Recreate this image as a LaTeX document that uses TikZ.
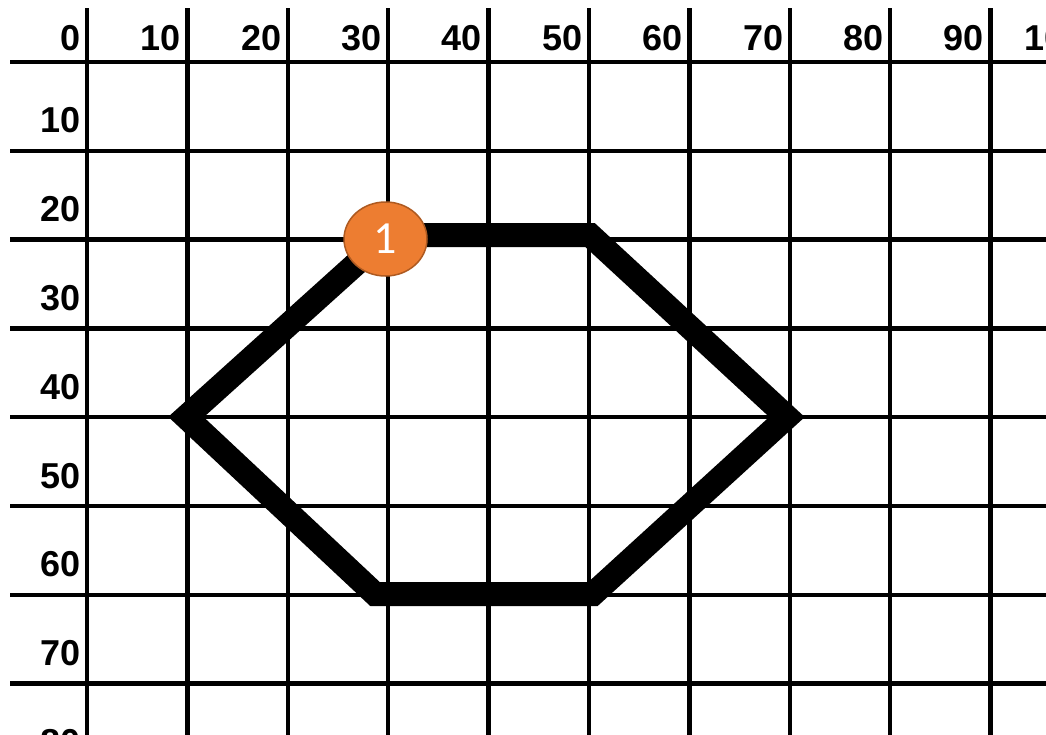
\documentclass[tikz,border=0pt]{standalone}
\usepackage{fontspec}
\setmainfont{Liberation Sans}
\newfontfamily\calibrifont{Carlito}
\usepackage{tikz}
\usetikzlibrary{
  positioning,
  shapes.geometric
}
\definecolor{markorange}{HTML}{ED7D31}
\definecolor{markedge}{HTML}{AE5A21}

\begin{document}
\begin{tikzpicture}[
    x=1pt, y=-1pt,
    % Styles
    gridline/.style={line width=4.3pt, color=black},
    ticklabel/.style={
        inner sep=0pt,
        font=\fontsize{36}{36}\selectfont\bfseries
    },
    hexline/.style={
        line width=24pt, color=black,
        line join=miter, line cap=butt
    },
    stepmark/.style={
        ellipse, draw=markedge, line width=1.5pt,
        fill=markorange, text=white,
        minimum width=83pt, minimum height=74pt,
        inner sep=0pt,
        font=\calibrifont\fontsize{46}{46}\selectfont
    }
]

\useasboundingbox (0,0) rectangle (1046,734);
\clip (0,0) rectangle (1046,734);

% ── GRID ──
\foreach \i in {0,...,10} {
    \draw[gridline] ({87+100.4*\i},8) -- ({87+100.4*\i},740);
    \pgfmathtruncatemacro{\val}{10*\i}
    \node[ticklabel, anchor=base east] (top\i) at ({80.5+100.4*\i},50) {\val};
}
\foreach \j in {0,...,8} {
    \draw[gridline] (10,{62+88.8*\j}) -- (1050,{62+88.8*\j});
}
\foreach \j in {1,...,8} {
    \pgfmathtruncatemacro{\val}{10*\j}
    \node[ticklabel, anchor=base east] (left\j) at (80.5,{44+88.8*\j}) {\val};
}

% ── HEXAGON ──
\coordinate (pa) at (388,235);
\coordinate (pb) at (590,235);
\coordinate (pc) at (787,417);
\coordinate (pd) at (593,594);
\coordinate (pe) at (375,594);
\coordinate (pf) at (186,417);

\draw[hexline] (pa) -- (pb) -- (pc) -- (pd) -- (pe) -- (pf) -- cycle;

% ── START MARK ──
\node[stepmark] (start) at (385.5,239) {1};

\end{tikzpicture}
\end{document}
